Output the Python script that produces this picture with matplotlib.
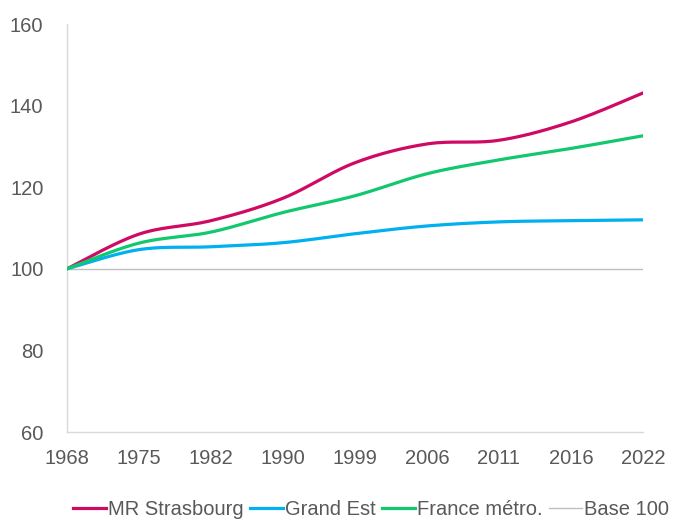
import numpy as np
import matplotlib.pyplot as plt
from matplotlib.lines import Line2D

plt.rcParams['font.family'] = ['Liberation Sans', 'DejaVu Sans']

# Data (index base 100 in 1968)
years = ['1968', '1975', '1982', '1990', '1999', '2006', '2011', '2016', '2022']
strasbourg = [100, 108.5, 111.8, 117.3, 126.0, 130.6, 131.5, 136.0, 143.1]
grand_est = [100, 104.7, 105.4, 106.4, 108.6, 110.5, 111.5, 111.8, 112.0]
france = [100, 106.3, 109.0, 113.8, 117.9, 123.3, 126.7, 129.5, 132.6]

c_stras = '#CE0A62'
c_ge = '#00B0F0'
c_fr = '#12C86E'
c_base = '#BFBFBF'
c_text = '#595959'
fs = 14.5


def smooth(y, n=30):
    # Excel-like smoothed line (Catmull-Rom through the points)
    y = np.asarray(y, dtype=float)
    x = np.arange(len(y), dtype=float)
    px = np.concatenate([[x[0]], x, [x[-1]]])
    py = np.concatenate([[y[0]], y, [y[-1]]])
    xs, ys = [], []
    for i in range(1, len(px) - 2):
        p0x, p1x, p2x, p3x = px[i - 1], px[i], px[i + 1], px[i + 2]
        p0y, p1y, p2y, p3y = py[i - 1], py[i], py[i + 1], py[i + 2]
        t = np.linspace(0, 1, n)
        # cubic bezier control points
        b1x, b1y = p1x + (p2x - p0x) / 6, p1y + (p2y - p0y) / 6
        b2x, b2y = p2x - (p3x - p1x) / 6, p2y - (p3y - p1y) / 6
        bx = (1 - t) ** 3 * p1x + 3 * (1 - t) ** 2 * t * b1x + 3 * (1 - t) * t ** 2 * b2x + t ** 3 * p2x
        by = (1 - t) ** 3 * p1y + 3 * (1 - t) ** 2 * t * b1y + 3 * (1 - t) * t ** 2 * b2y + t ** 3 * p2y
        xs.append(bx)
        ys.append(by)
    return np.concatenate(xs), np.concatenate(ys)


fig = plt.figure(figsize=(6.74, 5.2), dpi=100)
ax = fig.add_axes([67 / 674, 88 / 520, 576 / 674, 408 / 520])

x_idx = np.arange(len(years))
ax.plot([x_idx[0], x_idx[-1]], [100, 100], color=c_base, lw=1.0, zorder=1)
for vals, col in [(strasbourg, c_stras), (grand_est, c_ge), (france, c_fr)]:
    sx, sy = smooth(vals)
    ax.plot(sx, sy, color=col, lw=2.3, solid_capstyle='round', zorder=3)

ax.set_xlim(0, len(years) - 1)
ax.set_ylim(60, 160)
ax.set_yticks([60, 80, 100, 120, 140, 160])
ax.set_xticks(x_idx)
ax.set_xticklabels(years)
ax.tick_params(length=0, labelsize=fs, colors=c_text)
ax.tick_params(axis='x', pad=12)
ax.tick_params(axis='y', pad=17)
for s in ['top', 'right']:
    ax.spines[s].set_visible(False)
for s in ['left', 'bottom']:
    ax.spines[s].set_color('#D9D9D9')
    ax.spines[s].set_linewidth(1.0)

handles = [
    Line2D([], [], color=c_stras, lw=2.3),
    Line2D([], [], color=c_ge, lw=2.3),
    Line2D([], [], color=c_fr, lw=2.3),
    Line2D([], [], color=c_base, lw=1.0),
]
labels = ['MR Strasbourg', 'Grand Est', 'France métro.', 'Base 100']
leg = fig.legend(handles, labels, loc='center', bbox_to_anchor=(0.55, 0.021),
                 ncol=4, frameon=False, fontsize=fs, handlelength=1.65,
                 handletextpad=0.1, columnspacing=0.3, borderaxespad=0,
                 borderpad=0)
for t in leg.get_texts():
    t.set_color(c_text)

fig.savefig('out.png', dpi=100)
